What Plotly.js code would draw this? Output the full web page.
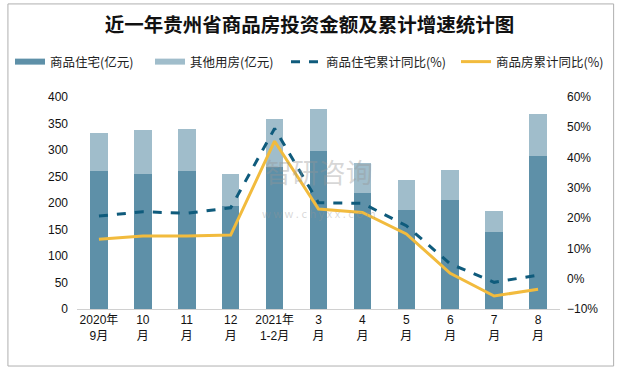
<!DOCTYPE html>
<html>
<head>
<meta charset="utf-8">
<script src="https://cdn.plot.ly/plotly-3.0.1.min.js"></script>
<style>html,body{margin:0;padding:0;background:#fff;}#chart{width:619px;height:369px;}</style>
</head>
<body>
<div id="chart"></div>
<script>
const categories = ["2020年<br>9月","10<br>月","11<br>月","12<br>月","2021年<br>1-2月","3<br>月","4<br>月","5<br>月","6<br>月","7<br>月","8<br>月"];
const residential = [260, 255, 260, 194, 268, 298, 219, 187, 206, 145, 289];
const otherUse = [72, 83, 80, 61, 90, 79, 56, 56, 56, 40, 79];
const residentialYoY = [20.7, 22.1, 21.6, 23.4, 49.6, 25.1, 24.9, 17.5, 4.9, -1.2, 1.2];
const commercialYoY = [13.0, 14.1, 14.1, 14.4, 45.4, 23.0, 21.9, 14.8, 1.8, -5.7, -3.5];
const seriesNames = ["商品住宅(亿元)", "其他用房(亿元)", "商品住宅累计同比(%)", "商品房累计同比(%)"];

const cDark = "#5e90a8", cLight = "#a0bdcb", cDash = "#0f5b7c", cGold = "#f2bb3d";
const cjk = "Noto Sans CJK SC";

const traces = [
  {type:"bar", x:categories, y:residential, name:seriesNames[0], marker:{color:cDark}, showlegend:false},
  {type:"bar", x:categories, y:otherUse, name:seriesNames[1], marker:{color:cLight}, showlegend:false},
  {type:"scatter", mode:"lines", x:categories, y:residentialYoY, yaxis:"y2", name:seriesNames[2], line:{color:cDash, width:3, dash:"dash"}, showlegend:false},
  {type:"scatter", mode:"lines", x:categories, y:commercialYoY, yaxis:"y2", name:seriesNames[3], line:{color:cGold, width:3}, showlegend:false},
  {type:"scatter", mode:"lines", x:[null], y:[null], name:seriesNames[0], line:{color:cDark, width:6}, legend:"legend"},
  {type:"scatter", mode:"lines", x:[null], y:[null], name:seriesNames[1], line:{color:cLight, width:6}, legend:"legend2"},
  {type:"scatter", mode:"lines", x:[null], y:[null], name:seriesNames[2], line:{color:cDash, width:3, dash:"dash"}, legend:"legend3"},
  {type:"scatter", mode:"lines", x:[null], y:[null], name:seriesNames[3], line:{color:cGold, width:3}, legend:"legend4"}
];

function leg(px) {
  return {orientation:"h", xref:"container", yref:"container", x:px/619, xanchor:"left", y:1-62/369, yanchor:"middle",
          font:{family:cjk, size:12.5, color:"#222"}, itemwidth:30, bgcolor:"rgba(0,0,0,0)"};
}

const layout = {
  width:619, height:369,
  margin:{l:77, r:59, t:97, b:60},
  paper_bgcolor:"#fff", plot_bgcolor:"#fff",
  barmode:"stack", bargap:0.6,
  title:{text:"<b>近一年贵州省商品房投资金额及累计增速统计图</b>", x:0.5, xanchor:"center", y:1-25/369, yanchor:"middle", font:{family:cjk, size:19.5, color:"#111"}},
  showlegend:true,
  legend:leg(10), legend2:leg(150), legend3:leg(286), legend4:leg(456),
  xaxis:{type:"category", range:[-0.5,10.5], showgrid:false, showline:true, linecolor:"#d0d0d0", linewidth:1, ticks:"", tickfont:{family:"Liberation Sans, "+cjk, size:12, color:"#111"}, tickangle:0},
  yaxis:{range:[0,400], dtick:50, showgrid:false, zeroline:false, showline:false, ticks:"", tickfont:{family:"Liberation Sans", size:12, color:"#111"}, ticklabelstandoff:8},
  yaxis2:{range:[-10,60], dtick:10, ticksuffix:"%", overlaying:"y", side:"right", showgrid:false, zeroline:false, showline:false, ticks:"", tickfont:{family:"Liberation Sans", size:12, color:"#111"}, ticklabelstandoff:6},
  shapes:[{type:"rect", xref:"paper", yref:"paper", x0:-0.143, x1:1.111, y0:-0.269, y1:1.439, line:{color:"#b0b0b0", width:1}, fillcolor:"rgba(0,0,0,0)", layer:"below"}],
  annotations:[
    {text:"智研咨询<br><span style='font-size:11px'>w w w . c h y x x . c o m</span>", xref:"paper", yref:"paper", x:0.5, y:0.58, showarrow:false, align:"center", font:{family:cjk, size:27, color:"rgba(150,150,150,0.38)"}}
  ]
};

Plotly.newPlot("chart", traces, layout, {displayModeBar:false, staticPlot:true});
</script>
</body>
</html>
